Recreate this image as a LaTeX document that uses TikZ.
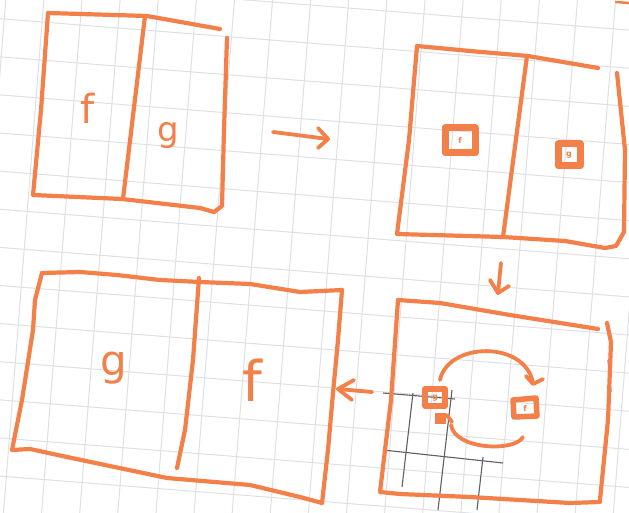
\documentclass[tikz,border=0pt]{standalone}
\usepackage{fontspec}
\setsansfont{DejaVu Sans}
\definecolor{sko}{RGB}{242,128,72}
\definecolor{gridc}{RGB}{222,224,230}
\definecolor{darkg}{RGB}{95,95,100}
\tikzset{
  sk/.style={draw=sko, line width=4.2pt, line cap=round, line join=round},
  skthin/.style={draw=sko, line width=3.8pt, line cap=round, line join=round},
  gridline/.style={draw=gridc, line width=1pt},
  darkline/.style={draw=darkg, line width=1.1pt},
  lbl/.style={text=sko, font=\sffamily, inner sep=0pt},
  minibox/.style={draw=sko, line width=7pt, line join=round},
  tinylbl/.style={text=sko, font=\sffamily\bfseries\fontsize{8}{8}\selectfont, inner sep=0pt}
}
\begin{document}
\begin{tikzpicture}[x=1pt,y=-1pt]
\useasboundingbox (0,0) rectangle (629,513);
\fill[white] (0,0) rectangle (629,513);
% grid paper
\begin{scope}
\clip (0,0) rectangle (629,513);
\begin{scope}[shift={(80,25)}, rotate=-4.5]
\foreach \i in {-20,...,20} {
  \draw[gridline] (\i*38,-800) -- (\i*38,800);
  \draw[gridline] (-800,\i*38) -- (800,\i*38);
}
\end{scope}
% darker grid patch
\draw[darkline] (383,393) -- (455,399);
\draw[darkline] (383,450) -- (503,463);
\draw[darkline] (413,393) -- (402,487);
\draw[darkline] (452,390) -- (438,510);
\draw[darkline] (483,457) -- (477,510);
\draw[darkline] (608,360) -- (611,392);
\end{scope}
% tiny mark top right
\draw[sk, line width=2.5pt] (616,2) -- (629,3);

% Panel 1 (top-left)
\draw[sk] (48,13) -- (147,16) -- (220,29);
\draw[sk] (48,13) -- (41,110) -- (33,195) -- (122,199) -- (200,208) -- (214,212) -- (222,206) -- (224,130) -- (227,38);
\draw[sk] (145,16) -- (123,199);
\node[lbl, font=\sffamily\fontsize{40}{40}\selectfont] (f1) at (88,108) {f};
\node[lbl, font=\sffamily\fontsize{34}{34}\selectfont] (g1) at (168,136) {g};

% Arrow 1
\coordinate (a1s) at (273,132);
\coordinate (a1e) at (328,139);
\draw[skthin] (a1s) -- (a1e);
\draw[skthin] (318,128) -- (a1e) -- (318,148);

% Panel 2 (top-right)
\draw[sk] (417,46) -- (470,51) -- (528,56) -- (598,68);
\draw[sk] (417,46) -- (409,140) -- (397,234) -- (503,237) -- (565,241) -- (605,248) -- (616,246) -- (624,232) -- (625,150) -- (617,73);
\draw[sk] (527,56) -- (503,237);
\draw[minibox] (445,128) rectangle (475,153);
\node[tinylbl] (f2) at (460,140) {f};
\draw[minibox] (558,144) rectangle (580,166);
\node[tinylbl] (g2) at (569,155) {g};

% Arrow 2
\coordinate (a2s) at (501,263);
\coordinate (a2e) at (498,293);
\draw[skthin] (a2s) -- (a2e);
\draw[skthin] (490,280) -- (a2e) -- (509,286);

% Panel 3 (bottom-right)
\draw[sk] (398,300) -- (440,303) -- (510,315) -- (598,329);
\draw[sk] (607,323) -- (611,342) -- (608,420) -- (600,500);
\draw[sk] (398,300) -- (391,400) -- (380,492) -- (400,494) -- (470,497) -- (570,503) -- (600,502);
\draw[minibox, line width=5.5pt] (425,389) rectangle (445,406);
\node[tinylbl] (g3) at (435,398) {g};
\draw[minibox, line width=5.5pt] (513,400) -- (536,398) -- (537,416) -- (514,417) -- cycle;
\node[tinylbl] (f3) at (525,408) {f};
\draw[skthin] (440,380) .. controls (448,342) and (525,340) .. (533,383);
\draw[skthin] (526,376) -- (533,384) -- (543,379);
\draw[skthin] (523,437) .. controls (515,452) and (455,450) .. (451,425);
\draw[skthin] (437,420) -- (447,415) -- (452,422);
\fill[sko] (435,413) rectangle (446,424);

% Arrow 3
\coordinate (a3s) at (372,392);
\coordinate (a3e) at (338,389);
\draw[skthin] (a3s) -- (a3e);
\draw[skthin] (354,380) -- (a3e) -- (352,400);

% Panel 4 (bottom-left)
\draw[sk] (42,273) -- (80,272) -- (117,275) -- (160,280) -- (200,282) -- (250,284) -- (300,292) -- (342,290);
\draw[sk] (342,290) -- (338,340) -- (333,393) -- (328,450) -- (322,503);
\draw[sk] (42,273) -- (35,300) -- (33,330) -- (22,400) -- (12,450) -- (30,449) -- (67,457) -- (167,478) -- (250,485) -- (300,497) -- (322,503);
\draw[sk] (199,278) -- (193,360) -- (185,430) -- (177,468);
\node[lbl, font=\sffamily\fontsize{42}{42}\selectfont] (g4) at (114,368) {g};
\node[lbl, font=\sffamily\fontsize{56}{56}\selectfont] (f4) at (252,380) {f};
\end{tikzpicture}
\end{document}
